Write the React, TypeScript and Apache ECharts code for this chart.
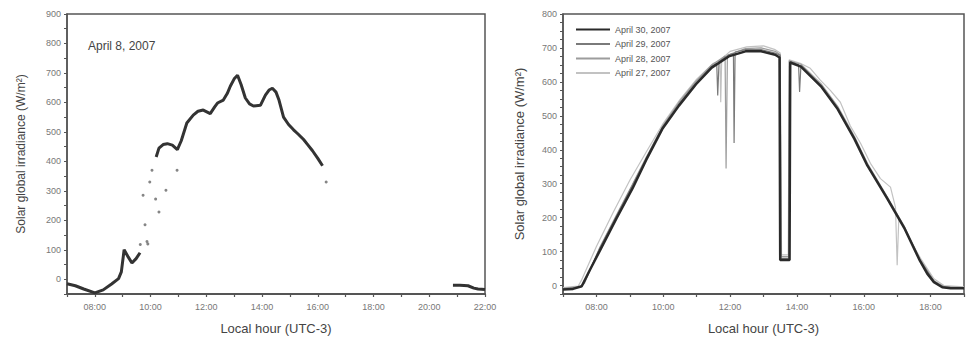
import React, { useEffect, useRef } from 'react';
import * as echarts from 'echarts';

// ---------- Left panel: April 8, 2007 (hour, W/m²) ----------
const apr8Morning: [number, number][] = [
  [7.0, -15], [7.3, -22], [7.6, -33], [8.0, -46], [8.3, -36], [8.6, -16], [8.85, 2], [8.95, 25],
  [9.05, 100], [9.2, 75], [9.33, 55], [9.48, 70], [9.62, 90],
];
const apr8Day: [number, number][] = [
  [10.2, 415], [10.3, 445], [10.45, 457], [10.6, 460], [10.78, 455], [10.96, 440], [11.1, 470],
  [11.3, 530], [11.53, 557], [11.7, 570], [11.89, 574], [12.14, 562], [12.3, 585], [12.4, 598],
  [12.61, 608], [12.75, 630], [12.86, 655], [13.0, 680], [13.12, 692], [13.25, 660], [13.4, 615],
  [13.55, 595], [13.69, 588], [13.94, 590], [14.12, 625], [14.25, 642], [14.37, 648], [14.5, 635],
  [14.6, 610], [14.77, 550], [14.95, 525], [15.13, 507], [15.3, 492], [15.49, 474], [15.65, 455],
  [15.81, 436], [16.0, 410], [16.17, 385],
];
const apr8Evening: [number, number][] = [
  [20.85, -20], [21.1, -20], [21.39, -22], [21.6, -30], [21.75, -33], [22.0, -35],
];
const apr8Scatter: [number, number][] = [
  [9.63, 118], [9.73, 285], [9.8, 185], [9.87, 128], [9.9, 120], [9.97, 330], [10.05, 370],
  [10.18, 272], [10.3, 228], [10.55, 302], [10.95, 370], [16.3, 330],
];

// ---------- Right panel: clear days ----------
const apr30: [number, number][] = [
  [7.0, -12], [7.3, -10], [7.56, -2], [7.8, 45], [8.1, 102], [8.6, 198], [9.08, 286], [9.49, 370],
  [9.97, 461], [10.47, 530], [10.98, 593], [11.45, 642], [11.96, 675], [12.46, 690], [12.93, 690],
  [13.35, 680], [13.48, 672], [13.5, 75], [13.78, 75], [13.8, 657], [14.12, 645], [14.72, 587],
  [15.22, 520], [15.72, 432], [16.11, 353], [16.7, 257], [17.21, 170], [17.68, 73], [17.9, 35],
  [18.1, 10], [18.35, -5], [18.6, -8], [19.0, -8],
];
const apr29: [number, number][] = [
  [7.0, -10], [7.5, -5], [7.62, 5], [8.1, 110], [8.6, 205], [9.08, 295], [9.49, 375], [9.97, 465],
  [10.47, 535], [10.98, 598], [11.45, 646], [11.6, 655], [11.63, 560], [11.67, 660], [11.96, 680],
  [12.1, 684], [12.12, 420], [12.15, 688], [12.46, 695], [12.93, 695], [13.35, 685], [13.5, 678],
  [13.52, 80], [13.76, 80], [13.78, 660], [14.05, 650], [14.08, 570], [14.12, 648], [14.72, 590],
  [15.22, 522], [15.72, 435], [16.11, 356], [16.7, 260], [17.21, 172], [17.68, 75], [18.1, 12],
  [18.4, -5], [19.0, -8],
];
const apr28: [number, number][] = [
  [7.0, -8], [7.55, -3], [7.65, 8], [8.1, 112], [8.6, 208], [9.08, 298], [9.49, 378], [9.97, 468],
  [10.47, 540], [10.98, 602], [11.45, 650], [11.85, 676], [11.88, 345], [11.92, 678], [12.46, 698],
  [12.93, 700], [13.35, 690], [13.5, 680], [13.53, 85], [13.75, 85], [13.77, 662], [14.12, 652],
  [14.72, 595], [15.22, 528], [15.72, 440], [16.11, 360], [16.7, 262], [17.21, 175], [17.68, 78],
  [18.1, 14], [18.4, -3], [19.0, -6],
];
const apr27: [number, number][] = [
  [7.0, -6], [7.45, -2], [7.55, 15], [8.0, 115], [8.5, 215], [9.0, 310], [9.5, 395], [10.0, 478],
  [10.5, 548], [11.0, 608], [11.5, 655], [11.7, 662], [11.72, 540], [11.75, 668], [12.0, 690],
  [12.5, 703], [13.0, 706], [13.35, 695], [13.5, 685], [13.54, 90], [13.74, 90], [13.77, 665],
  [14.1, 655], [14.4, 640], [14.7, 605], [15.0, 575], [15.3, 540], [15.6, 470], [15.9, 420],
  [16.2, 360], [16.5, 315], [16.8, 290], [16.95, 230], [17.0, 60], [17.05, 200], [17.3, 150],
  [17.7, 80], [18.1, 20], [18.4, 0], [19.0, -4],
];

const seriesNames = ['April 30, 2007', 'April 29, 2007', 'April 28, 2007', 'April 27, 2007'];
const seriesData = [apr30, apr29, apr28, apr27];
const seriesColors = ['#2a2a2a', '#7a7a7a', '#9c9c9c', '#c2c2c2'];
const seriesWidths = [2.5, 1.2, 1.2, 1.2];

const leftTitle = 'April 8, 2007';
const yName = 'Solar global irradiance (W/m\u00B2)';
const xName = 'Local hour (UTC-3)';

const AXIS = '#555';
const LABEL = '#777';
const NAME = '#444';
const FONT = 'Liberation Sans, Arial, sans-serif';

const hourFmt = (v: number) =>
  v % 2 === 0 && v >= 8 ? `${v < 10 ? '0' : ''}${v}:00` : '';

export default function App() {
  const ref = useRef<HTMLDivElement>(null);
  useEffect(() => {
    const chart = echarts.init(ref.current!, null, { renderer: 'svg' });
    const baseX = (grid: number, min: number, max: number) => ({
      type: 'value', gridIndex: grid, min, max, interval: 1, position: 'bottom',
      axisLine: { show: true, onZero: false, lineStyle: { color: AXIS, width: 2 } },
      axisTick: { show: true, length: 3, lineStyle: { color: AXIS, width: 1.2 } },
      axisLabel: { formatter: hourFmt, fontSize: 9, color: LABEL, fontFamily: FONT, margin: 8 },
      splitLine: { show: false },
      name: xName, nameLocation: 'middle', nameGap: 28,
      nameTextStyle: { fontSize: 13, color: NAME, fontFamily: FONT },
    });
    const leftLine = (d: [number, number][]) => ({
      type: 'line', xAxisIndex: 0, yAxisIndex: 0, showSymbol: false, symbol: 'none', data: d,
      lineStyle: { color: '#333', width: 3 }, itemStyle: { color: '#333' },
    });
    const option: any = {
      animation: false,
      backgroundColor: '#fff',
      grid: [
        { left: 67, top: 14, width: 418, height: 283, show: true, borderColor: AXIS, borderWidth: 1.5 },
        { left: 563, top: 14, width: 403, height: 283, show: true, borderColor: AXIS, borderWidth: 1.5 },
      ],
      xAxis: [baseX(0, 7, 22), baseX(1, 7, 19)],
      yAxis: [
        {
          type: 'value', gridIndex: 0, min: -50, max: 900, interval: 50, position: 'left',
          axisLine: { show: true, onZero: false, lineStyle: { color: AXIS, width: 1.5 } },
          axisTick: { show: true, length: 3, lineStyle: { color: AXIS } },
          axisLabel: {
            formatter: (v: number) => (v % 100 === 0 ? String(v) : ''),
            fontSize: 9, color: LABEL, fontFamily: FONT, margin: 6,
          },
          splitLine: { show: false },
          name: yName, nameLocation: 'middle', nameGap: 40,
          nameTextStyle: { fontSize: 12, color: NAME, fontFamily: FONT },
        },
        {
          type: 'value', gridIndex: 1, min: -25, max: 800, interval: 25, position: 'left',
          axisLine: { show: true, onZero: false, lineStyle: { color: AXIS, width: 1.5 } },
          axisTick: { show: true, length: 3, lineStyle: { color: AXIS } },
          axisLabel: {
            formatter: (v: number) => (v >= 0 && v % 100 === 0 ? String(v) : ''),
            fontSize: 9, color: LABEL, fontFamily: FONT, margin: 6,
          },
          splitLine: { show: false },
          name: yName, nameLocation: 'middle', nameGap: 37,
          nameTextStyle: { fontSize: 13, color: NAME, fontFamily: FONT },
        },
      ],
      legend: {
        left: 570, top: 20, orient: 'vertical', itemWidth: 34, itemHeight: 10, itemGap: 5.5,
        data: seriesNames,
        itemStyle: { opacity: 0 },
        textStyle: { fontSize: 9, color: '#555', fontFamily: FONT },
      },
      graphic: [
        {
          type: 'text', left: 88, top: 40,
          style: { text: leftTitle, fontSize: 12, fill: NAME, fontFamily: FONT },
        },
      ],
      series: [
        leftLine(apr8Morning),
        leftLine(apr8Day),
        leftLine(apr8Evening),
        {
          type: 'scatter', xAxisIndex: 0, yAxisIndex: 0, symbolSize: 3,
          data: apr8Scatter, itemStyle: { color: '#666' },
        },
        ...seriesData.map((d, i) => ({
          name: seriesNames[i], type: 'line', xAxisIndex: 1, yAxisIndex: 1,
          showSymbol: false, symbol: 'none', data: d,
          lineStyle: { color: seriesColors[i], width: seriesWidths[i] },
          itemStyle: { color: seriesColors[i] },
        })).reverse(),
      ],
    };
    chart.setOption(option);
    return () => chart.dispose();
  }, []);
  return (
    <div
      ref={ref}
      style={{ position: 'absolute', left: 0, top: 0, width: 967, height: 340 }}
    />
  );
}
